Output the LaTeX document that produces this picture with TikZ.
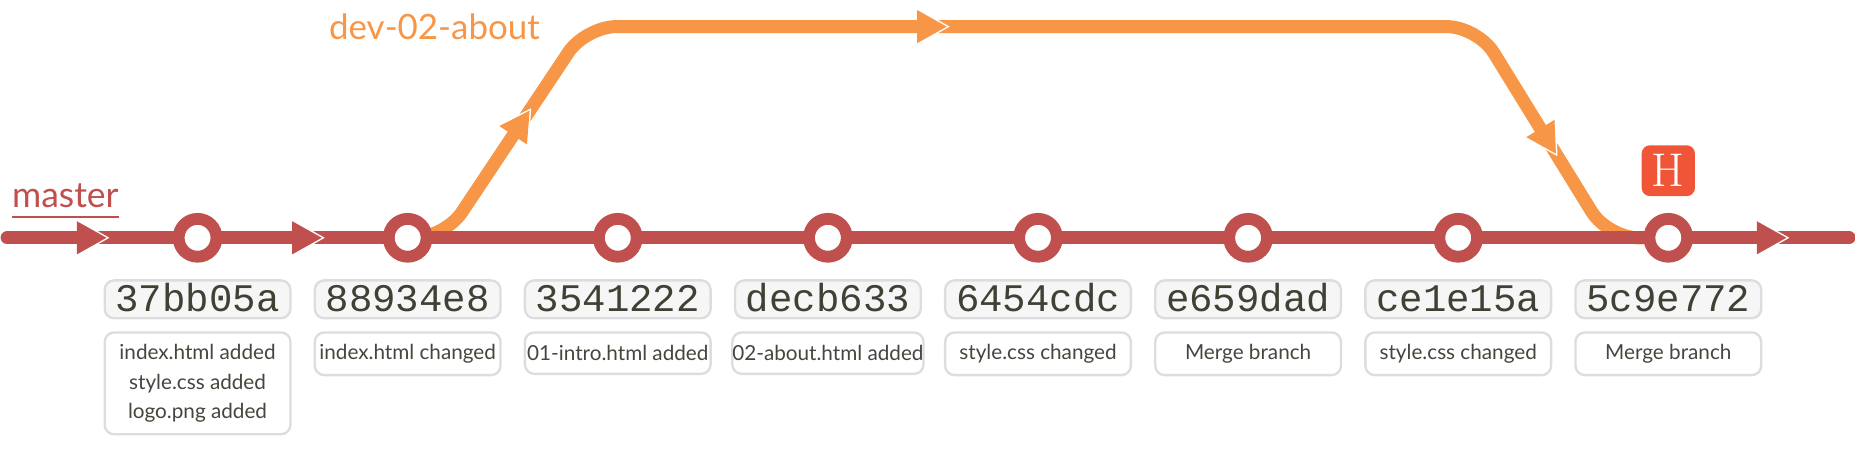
\documentclass[tikz,border=0pt]{standalone}
\usepackage{fontspec}
\setmainfont{Lato}
\setmonofont{Liberation Mono}
\newfontfamily\headfont{Latin Modern Roman}
\usepackage{tikz}
\usetikzlibrary{positioning,backgrounds,decorations.markings}

\definecolor{masterred}{RGB}{192,80,77}
\definecolor{devorange}{RGB}{247,150,70}
\definecolor{boxgray}{RGB}{221,221,221}
\definecolor{hashfill}{RGB}{246,246,246}
\definecolor{hashtext}{RGB}{64,64,52}
\definecolor{msgtext}{RGB}{70,70,62}
\definecolor{headred}{RGB}{240,85,56}

\newcommand{\tiphead}[1]{%
  \fill[white, sharp corners] (-24,-15) -- (2.5,0) -- (-24,15) -- cycle;
  \fill[#1, sharp corners] (-25,-14) -- (0,0) -- (-25,14) -- cycle;}

\tikzset{
  commit/.style={circle, draw=masterred, line width=10pt, fill=white, minimum size=32pt, inner sep=0pt},
  hashbox/.style={draw=boxgray, line width=2pt, fill=hashfill, rounded corners=8pt,
    minimum width=157pt, minimum height=32pt, inner sep=0pt, text height=20pt, text depth=0pt,
    font=\ttfamily\fontsize{33}{33}\selectfont, text=hashtext},
  msgbox/.style={draw=boxgray, line width=2pt, fill=white, rounded corners=8pt,
    align=center, minimum width=157pt, minimum height=35pt, inner xsep=0pt, inner ysep=10pt,
    font=\fontsize{17.5}{25}\selectfont, text=msgtext},
  masterline/.style={draw=masterred, line width=11pt, line cap=round},
  devline/.style={draw=devorange, line width=11pt, rounded corners=26pt},
  branchlabel/.style={anchor=base west, inner sep=0pt},
}

\begin{document}
\begin{tikzpicture}[x=1pt, y=-1pt]
  \useasboundingbox (0,0) rectangle (1568,383);

  \node[commit] (c1) at (167,201) {};
  \node[commit, right=135.6pt of c1] (c2) {};
  \node[commit, right=135.6pt of c2] (c3) {};
  \node[commit, right=135.6pt of c3] (c4) {};
  \node[commit, right=135.6pt of c4] (c5) {};
  \node[commit, right=135.6pt of c5] (c6) {};
  \node[commit, right=135.6pt of c6] (c7) {};
  \node[commit, right=135.6pt of c7] (c8) {};

  \node[hashbox, below=14pt of c1] (h1) {37bb05a};
  \node[hashbox, below=14pt of c2] (h2) {88934e8};
  \node[hashbox, below=14pt of c3] (h3) {3541222};
  \node[hashbox, below=14pt of c4] (h4) {decb633};
  \node[hashbox, below=14pt of c5] (h5) {6454cdc};
  \node[hashbox, below=14pt of c6] (h6) {e659dad};
  \node[hashbox, below=14pt of c7] (h7) {ce1e15a};
  \node[hashbox, below=14pt of c8] (h8) {5c9e772};

  \node[msgbox, below=10pt of h1] (m1) {index.html added\\style.css added\\logo.png added};
  \node[msgbox, below=10pt of h2] (m2) {index.html changed};
  \node[msgbox, below=10pt of h3] (m3) {01-intro.html added};
  \node[msgbox, below=10pt of h4] (m4) {02-about.html added};
  \node[msgbox, below=10pt of h5] (m5) {style.css changed};
  \node[msgbox, below=10pt of h6] (m6) {Merge branch};
  \node[msgbox, below=10pt of h7] (m7) {style.css changed};
  \node[msgbox, below=10pt of h8] (m8) {Merge branch};

  \node[branchlabel, text=masterred, font=\fontsize{30}{30}\selectfont] (master) at (10,175) {master};
  \draw[masterred, line width=2pt] ([yshift=-8.5pt]master.base west) -- ([yshift=-8.5pt]master.base east);
  \node[branchlabel, text=devorange, font=\fontsize{29.5}{30}\selectfont] (dev) at (278,33) {dev-02-about};

  \node[fill=headred, rounded corners=7pt, minimum width=45pt, minimum height=43pt, inner sep=0pt,
    text=white, font=\headfont\fontsize{40}{40}\selectfont, above=14pt of c8] (head) {H};

  \coordinate (mstart) at (6,201);
  \coordinate (mend) at (1563,201);
  \coordinate (b1) at (376,201);
  \coordinate (b2) at (495,22.5);
  \coordinate (b3) at (1249,22.5);
  \coordinate (b4) at (1359,201);

  \begin{scope}[on background layer]
    \draw[devline, decoration={markings,
        mark=at position 156pt with {\tiphead{devorange}},
        mark=at position 542pt with {\tiphead{devorange}},
        mark=at position 1112pt with {\tiphead{devorange}}}, postaction={decorate}]
      (c2.center) -- (b1) -- (b2) -- (b3) -- (b4) -- (c8.center);
    \draw[masterline, decoration={markings,
        mark=at position 84pt with {\tiphead{masterred}},
        mark=at position 266pt with {\tiphead{masterred}},
        mark=at position 1504pt with {\tiphead{masterred}}}, postaction={decorate}]
      (mstart) -- (c1.center) -- (c2.center) -- (c3.center) -- (c4.center)
      -- (c5.center) -- (c6.center) -- (c7.center) -- (c8.center) -- (mend);
  \end{scope}
\end{tikzpicture}
\end{document}
